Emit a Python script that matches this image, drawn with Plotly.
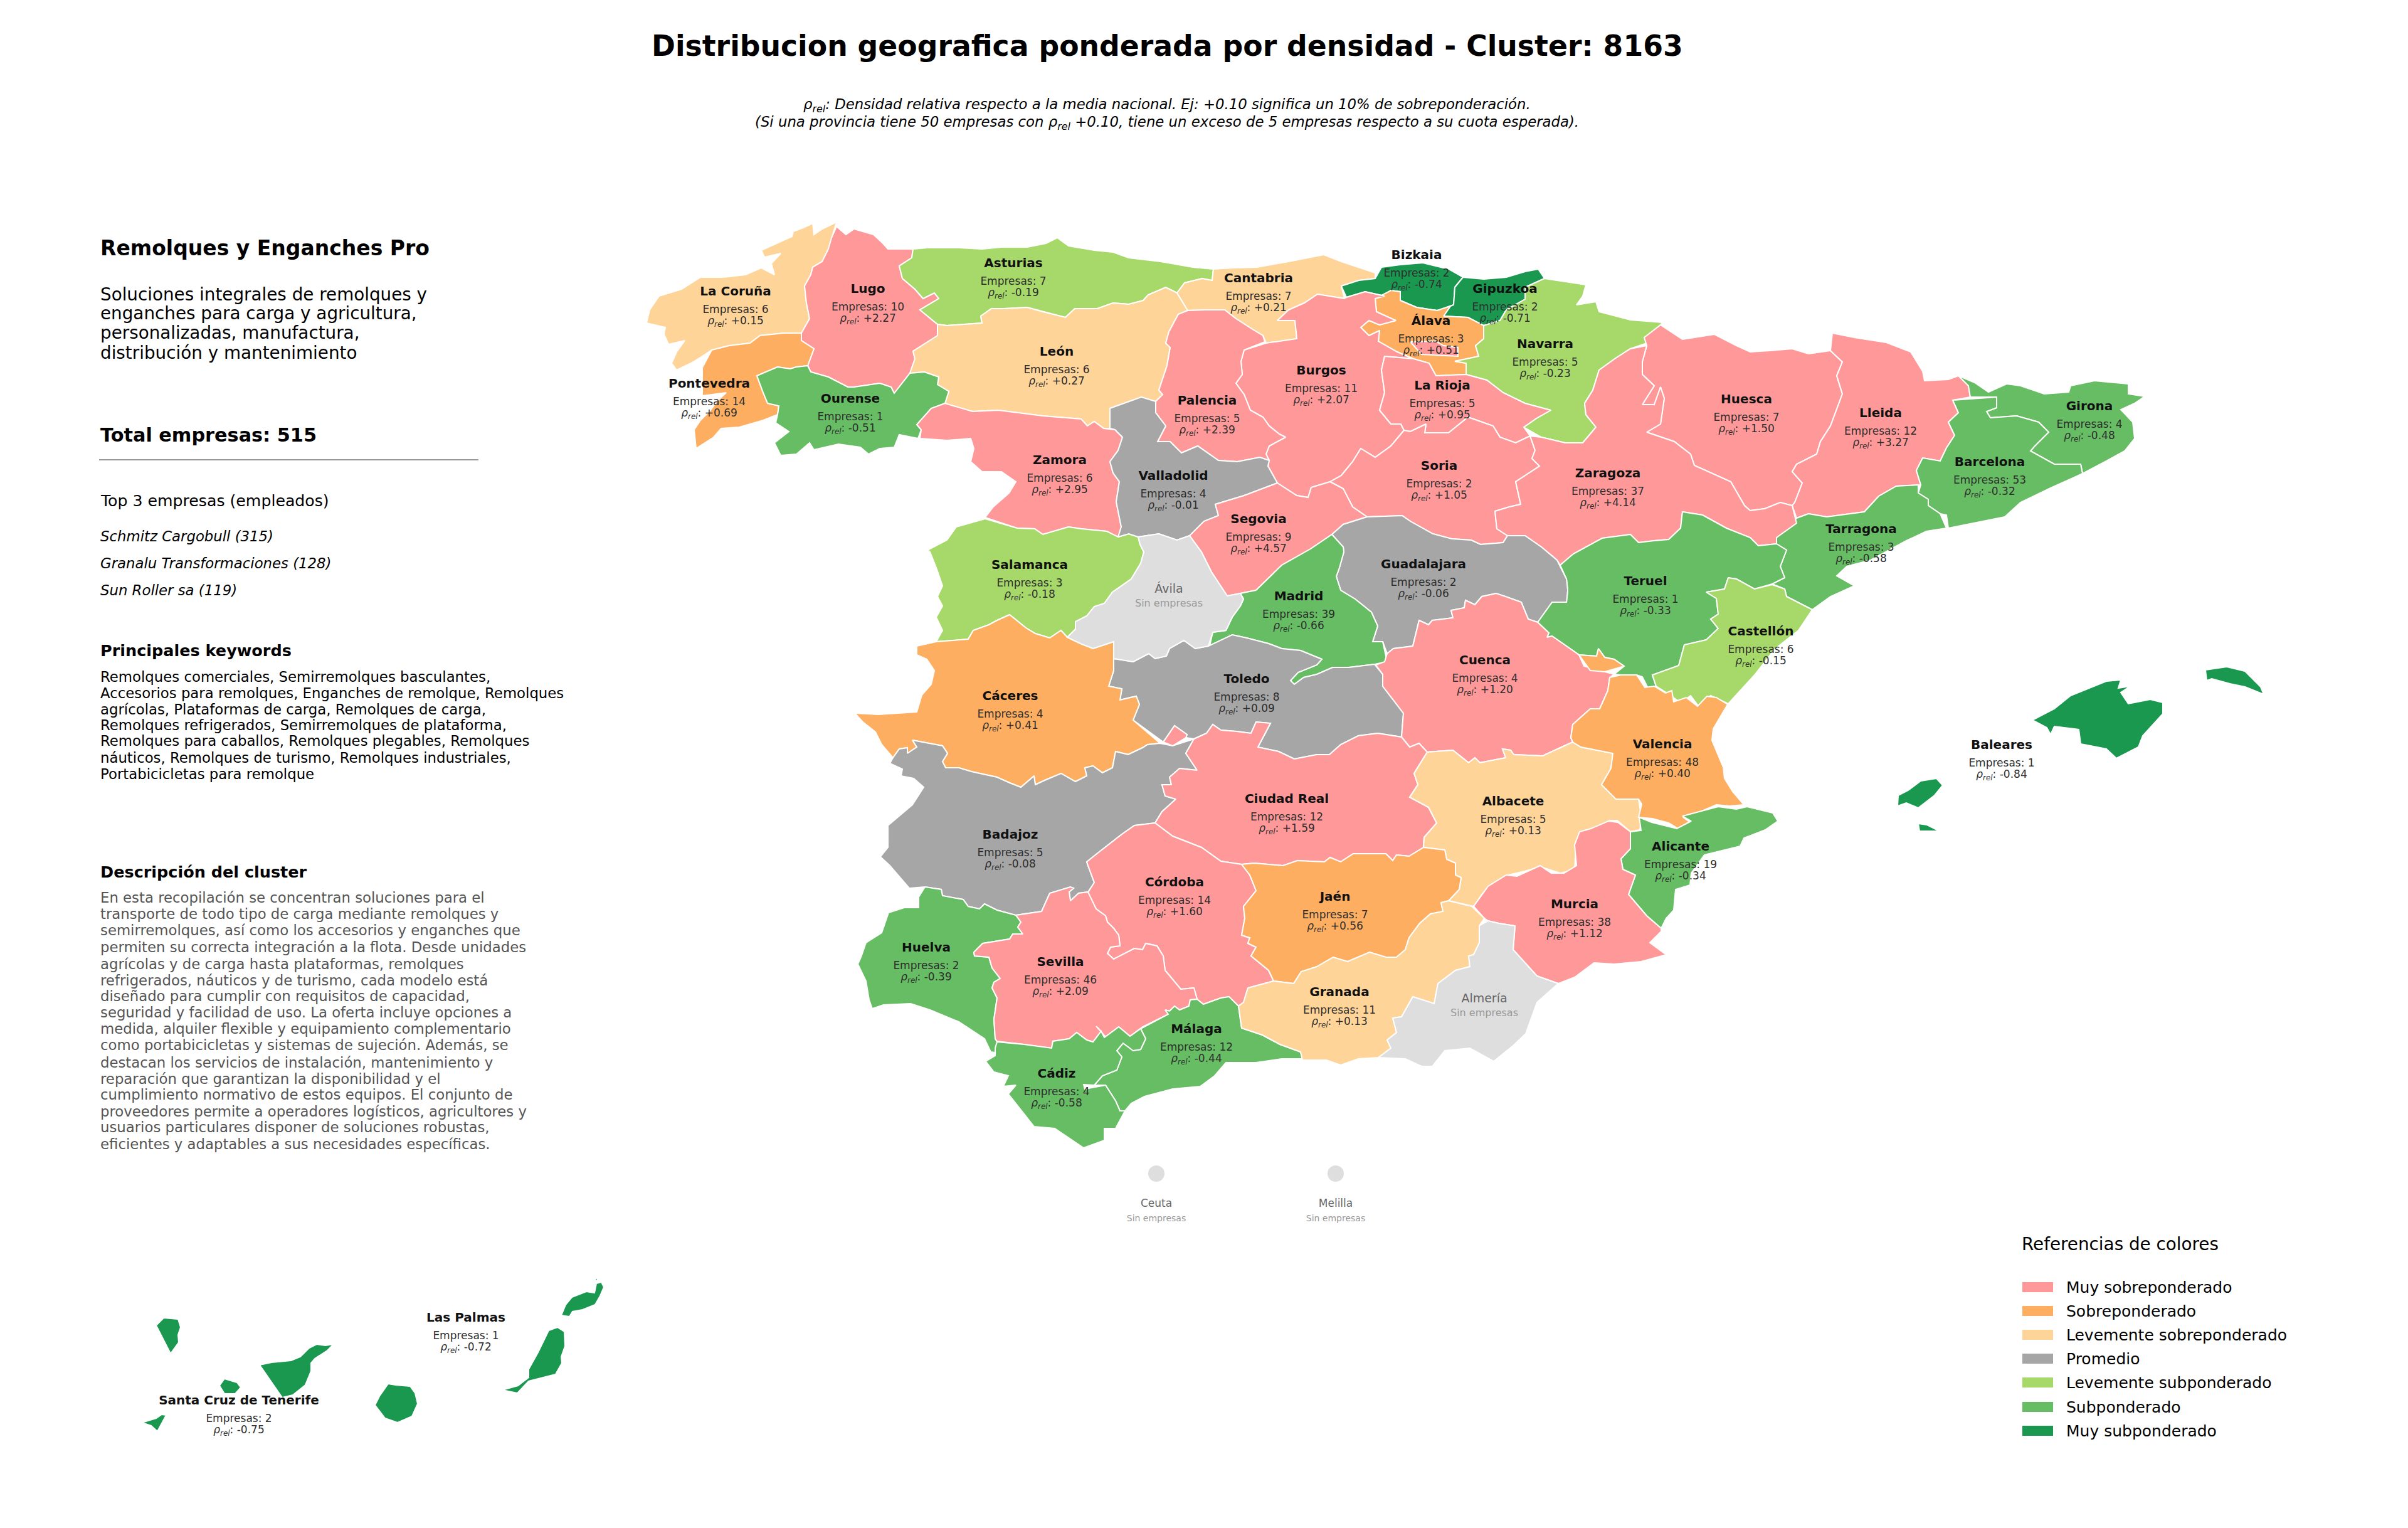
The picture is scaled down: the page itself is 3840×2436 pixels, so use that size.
#!/usr/bin/env python
# coding: utf-8

import plotly.graph_objects as go

# province data
PROVINCIAS = ["La Coruña", "Lugo", "Asturias", "León", "Pontevedra", "Ourense", "Zamora", "Salamanca",
              "Cantabria", "Bizkaia", "Gipuzkoa", "Álava", "Navarra", "Burgos", "La Rioja", "Palencia",
              "Soria", "Valladolid", "Segovia", "Huesca", "Lleida", "Girona", "Barcelona", "Tarragona",
              "Zaragoza", "Teruel", "Castellón", "Guadalajara", "Madrid", "Toledo", "Cuenca", "Cáceres",
              "Badajoz", "Ciudad Real", "Albacete", "Valencia", "Alicante", "Murcia", "Córdoba", "Jaén",
              "Huelva", "Sevilla", "Málaga", "Cádiz", "Granada", "Baleares", "Las Palmas",
              "Santa Cruz de Tenerife"]
EMPRESAS = [6, 10, 7, 6, 14, 1, 6, 3, 7, 2, 2, 3, 5, 11, 5, 5, 2, 4, 9, 7, 12, 4, 53, 3, 37, 1, 6, 2, 39, 8, 4,
            4, 5, 12, 5, 48, 19, 38, 14, 7, 2, 46, 12, 4, 11, 1, 1, 2]
RHO = [0.15, 2.27, -0.19, 0.27, 0.69, -0.51, 2.95, -0.18, 0.21, -0.74, -0.71, 0.51, -0.23, 2.07, 0.95, 2.39,
       1.05, -0.01, 4.57, 1.50, 3.27, -0.48, -0.32, -0.58, 4.14, -0.33, -0.15, -0.06, -0.66, 0.09, 1.20, 0.41,
       -0.08, 1.59, 0.13, 0.40, -0.34, 1.12, 1.60, 0.56, -0.39, 2.09, -0.44, -0.58, 0.13, -0.84, -0.72, -0.75]
LABEL_X = [1173, 1384, 1616, 1685, 1131, 1356, 1690, 1642, 2007, 2259, 2400, 2282, 2464, 2107, 2300, 1925,
           2295, 1871, 2007, 2785, 2999, 3332, 3173, 2968, 2564, 2624, 2808, 2270, 2071, 1988, 2368, 1611,
           1611, 2052, 2413, 2651, 2680, 2511, 1873, 2129, 1477, 1691, 1908, 1685, 2136, 3192, 743, 381]
LABEL_Y = [466, 462, 421, 562, 613, 637, 735, 902, 445, 408, 462, 513, 550, 592, 616, 640,
           744, 760, 829, 638, 660, 649, 738, 845, 756, 928, 1008, 901, 952, 1084, 1054, 1111,
           1332, 1275, 1279, 1188, 1351, 1443, 1408, 1431, 1512, 1535, 1642, 1713, 1583, 1189, 2102, 2234]

SIN_DATOS = ["Ávila", "Almería"]
SIN_DATOS_X = [1864, 2367]
SIN_DATOS_Y = [940, 1593]
PLAZAS = ["Ceuta", "Melilla"]
PLAZAS_X = [1844, 2130]
PLAZAS_Y = [1871, 1871]

CATEGORIAS = ["Muy sobreponderado", "Sobreponderado", "Levemente sobreponderado", "Promedio",
              "Levemente subponderado", "Subponderado", "Muy subponderado"]
COLORES = ["#FF9999", "#FDAE61", "#FED499", "#A6A6A6", "#A6D96A", "#66BD63", "#1A9850"]
COLOR_SIN_DATOS = "#DEDEDE"

# outlines
LA_CORUNA = [(1334,354),(1326,379),(1321,397),(1311,417),(1296,426),(1293,438),(1283,456),(1286,483),(1291,508),(1278,531),(1250,531),(1212,535),(1196,547),(1163,551),(1135,558),(1120,568),(1102,579),(1079,590),(1071,579),(1079,561),(1092,543),(1066,549),(1059,533),(1061,522),(1031,515),(1036,494),(1051,472),(1087,461),(1117,442),(1153,442),(1189,438),(1214,427),(1235,438),(1230,420),(1245,404),(1219,410),(1214,399),(1245,385),(1263,377),(1265,369),(1281,363),(1296,356),(1298,374),(1311,365)]
LUGO = [(1334,361),(1349,374),(1362,365),(1393,374),(1408,388),(1416,397),(1456,397),(1454,411),(1434,424),(1439,444),(1459,461),(1472,476),(1490,467),(1497,476),(1467,494),(1495,517),(1495,535),(1456,560),(1459,572),(1451,595),(1426,627),(1421,617),(1403,611),(1362,617),(1352,617),(1321,601),(1293,593),(1288,583),(1298,556),(1278,543),(1278,531),(1291,508),(1286,483),(1283,456),(1293,438),(1296,426),(1311,417),(1321,397),(1326,379)]
PONTEVEDRA = [(1278,531),(1278,543),(1298,556),(1288,583),(1270,585),(1260,588),(1240,585),(1207,599),(1217,626),(1224,643),(1242,647),(1240,661),(1217,670),(1179,681),(1150,683),(1138,697),(1110,715),(1107,685),(1117,670),(1133,654),(1143,640),(1158,626),(1120,631),(1120,615),(1120,586),(1135,558),(1163,551),(1196,547),(1212,535),(1250,531)]
OURENSE = [(1288,583),(1293,593),(1321,601),(1352,617),(1362,617),(1403,611),(1421,617),(1426,627),(1451,595),(1474,593),(1497,601),(1495,613),(1513,624),(1507,643),(1485,651),(1462,677),(1469,685),(1464,699),(1434,693),(1426,713),(1403,715),(1385,724),(1372,713),(1337,708),(1298,717),(1291,706),(1270,724),(1245,726),(1235,706),(1258,688),(1237,674),(1240,661),(1242,647),(1224,643),(1217,626),(1207,599),(1240,585),(1260,588),(1270,585)]
ASTURIAS = [(1456,397),(1479,395),(1530,395),(1566,397),(1597,394),(1638,394),(1668,388),(1686,379),(1704,392),(1745,399),(1775,402),(1800,411),(1851,417),(1902,426),(1935,429),(1933,447),(1917,444),(1889,451),(1877,467),(1859,458),(1831,470),(1823,479),(1800,485),(1775,483),(1750,492),(1714,492),(1699,506),(1663,497),(1638,490),(1602,492),(1581,492),(1564,504),(1566,515),(1510,519),(1495,517),(1467,494),(1497,476),(1490,467),(1472,476),(1459,461),(1439,444),(1434,424),(1454,411)]
LEON = [(1495,517),(1510,519),(1566,515),(1564,504),(1581,492),(1602,492),(1638,490),(1663,497),(1699,506),(1714,492),(1750,492),(1775,483),(1800,485),(1823,479),(1831,470),(1859,458),(1877,467),(1894,495),(1879,501),(1864,529),(1859,547),(1866,554),(1861,583),(1848,622),(1854,629),(1843,640),(1820,633),(1800,640),(1770,651),(1770,683),(1760,683),(1745,672),(1734,679),(1724,668),(1663,663),(1592,654),(1551,656),(1510,645),(1507,643),(1513,624),(1495,613),(1497,601),(1474,593),(1451,595),(1459,572),(1456,560),(1495,535)]
ZAMORA = [(1507,643),(1551,656),(1592,654),(1663,663),(1724,668),(1734,679),(1745,672),(1760,683),(1778,685),(1790,697),(1783,718),(1770,736),(1775,754),(1785,768),(1780,800),(1788,840),(1783,856),(1765,847),(1724,843),(1704,840),(1663,852),(1650,843),(1622,842),(1576,827),(1571,825),(1584,808),(1609,786),(1620,768),(1597,752),(1566,752),(1548,736),(1553,715),(1548,699),(1510,702),(1467,699),(1469,685),(1462,677),(1485,651)]
PALENCIA = [(1894,495),(1922,494),(1953,494),(1971,508),(1999,526),(2014,535),(2017,545),(1984,558),(1979,576),(1981,597),(1971,611),(1984,629),(1994,654),(2014,665),(2024,679),(2040,692),(2050,697),(2024,711),(2019,724),(2024,734),(2009,729),(1973,736),(1943,734),(1910,711),(1884,722),(1866,704),(1846,704),(1859,679),(1843,658),(1843,640),(1854,629),(1848,622),(1861,583),(1866,554),(1859,547),(1864,529),(1879,501)]
CANTABRIA = [(1935,429),(1968,427),(2004,426),(2055,417),(2111,406),(2139,417),(2193,435),(2193,444),(2167,447),(2139,456),(2144,476),(2101,469),(2080,483),(2055,494),(2037,511),(2065,511),(2068,540),(2019,547),(2014,535),(1999,526),(1971,508),(1953,494),(1922,494),(1894,495),(1877,467),(1889,451),(1917,444),(1933,447)]
BIZKAIA = [(2139,456),(2167,447),(2193,444),(2203,426),(2233,422),(2269,419),(2310,429),(2333,442),(2320,458),(2318,486),(2292,495),(2259,490),(2233,479),(2233,465),(2218,463),(2208,472),(2177,465),(2147,474)]
GIPUZKOA = [(2333,442),(2366,445),(2402,442),(2432,433),(2453,429),(2463,444),(2432,458),(2432,477),(2402,494),(2392,511),(2366,519),(2341,506),(2302,504),(2313,488),(2318,486),(2320,458)]
ALAVA = [(2233,465),(2233,479),(2259,490),(2292,495),(2313,488),(2302,504),(2341,506),(2366,519),(2366,540),(2353,551),(2358,568),(2320,576),(2338,579),(2338,597),(2290,599),(2279,579),(2254,572),(2228,561),(2198,544),(2200,527),(2183,535),(2170,522),(2183,511),(2200,518),(2226,511),(2195,497),(2193,476),(2218,463)]
NAVARRA = [(2463,444),(2483,447),(2529,454),(2524,472),(2514,486),(2545,481),(2550,497),(2600,510),(2651,514),(2629,546),(2600,556),(2575,572),(2550,590),(2540,622),(2527,643),(2529,661),(2545,681),(2524,706),(2496,706),(2458,697),(2430,681),(2450,667),(2473,654),(2432,643),(2397,626),(2371,606),(2338,597),(2338,579),(2320,576),(2358,568),(2353,551),(2366,540),(2366,519),(2392,511),(2402,494),(2432,477),(2432,458)]
LA_RIOJA = [(2208,568),(2254,572),(2279,579),(2290,599),(2338,597),(2371,606),(2397,626),(2432,643),(2473,654),(2450,667),(2430,681),(2440,695),(2417,706),(2392,697),(2381,679),(2341,665),(2310,690),(2272,690),(2274,676),(2249,688),(2239,686),(2234,676),(2218,676),(2200,654),(2208,626),(2203,590)]
BURGOS = [(2144,476),(2101,469),(2080,483),(2055,494),(2037,511),(2065,511),(2068,540),(2019,547),(1984,558),(1979,576),(1981,597),(1971,611),(1984,629),(1994,654),(2014,665),(2024,679),(2040,692),(2050,697),(2024,711),(2019,724),(2024,734),(2022,743),(2037,770),(2068,790),(2086,793),(2091,777),(2121,768),(2139,758),(2157,736),(2170,715),(2193,729),(2218,711),(2239,686),(2234,676),(2218,676),(2200,654),(2208,626),(2203,590),(2208,568),(2254,572),(2228,561),(2198,544),(2200,527),(2183,535),(2170,522),(2183,511),(2200,518),(2226,511),(2195,497),(2193,476),(2208,472),(2177,465),(2147,474)]
TREVINO = [(2249,545),(2290,544),(2302,551),(2325,554),(2325,568),(2267,565)]
SORIA = [(2239,686),(2249,688),(2274,676),(2272,690),(2310,690),(2341,665),(2381,679),(2392,697),(2417,706),(2440,695),(2448,718),(2443,731),(2455,743),(2417,768),(2425,804),(2407,808),(2384,815),(2387,843),(2404,854),(2397,865),(2361,868),(2346,861),(2315,859),(2285,851),(2249,831),(2236,822),(2180,824),(2157,808),(2142,779),(2121,768),(2139,758),(2157,736),(2170,715),(2193,729),(2218,711)]
VALLADOLID = [(1770,651),(1800,640),(1820,633),(1843,640),(1843,658),(1859,679),(1846,704),(1866,704),(1884,722),(1910,711),(1943,734),(1973,736),(2009,729),(2024,734),(2022,743),(2037,770),(1984,790),(1938,804),(1943,822),(1920,831),(1897,854),(1877,861),(1848,851),(1815,856),(1800,851),(1783,856),(1788,840),(1780,800),(1785,768),(1775,754),(1770,736),(1783,718),(1790,697),(1778,685),(1770,683)]
SEGOVIA = [(2037,770),(2068,790),(2086,793),(2091,777),(2121,768),(2142,779),(2157,808),(2180,824),(2142,836),(2124,852),(2090,875),(2044,901),(2003,941),(1978,946),(1957,950),(1932,912),(1916,880),(1897,854),(1920,831),(1943,822),(1938,804),(1984,790)]
SALAMANCA = [(1571,827),(1622,842),(1650,843),(1663,852),(1704,840),(1724,843),(1765,847),(1783,856),(1800,851),(1815,856),(1818,868),(1824,880),(1819,898),(1804,923),(1774,944),(1761,962),(1745,967),(1733,982),(1715,991),(1715,1003),(1702,1016),(1692,1005),(1674,1017),(1651,1010),(1636,1001),(1610,980),(1590,989),(1577,996),(1552,1005),(1544,1019),(1521,1021),(1493,1023),(1503,1005),(1493,984),(1503,966),(1495,951),(1503,934),(1493,905),(1483,880),(1479,877),(1510,861),(1525,840)]
AVILA = [(1815,856),(1848,851),(1877,861),(1897,854),(1916,880),(1932,912),(1957,950),(1978,946),(1983,955),(1978,966),(1965,984),(1955,1005),(1934,1008),(1927,1030),(1906,1034),(1888,1021),(1865,1034),(1860,1046),(1842,1050),(1832,1042),(1807,1055),(1776,1050),(1776,1023),(1743,1034),(1723,1026),(1702,1016),(1715,1003),(1715,991),(1733,982),(1745,967),(1761,962),(1774,944),(1804,923),(1819,898),(1824,880),(1818,868)]
MADRID = [(2003,941),(2044,901),(2090,875),(2124,852),(2142,872),(2143,880),(2136,905),(2131,919),(2138,941),(2161,955),(2187,976),(2197,998),(2189,1023),(2205,1023),(2212,1055),(2192,1059),(2151,1064),(2125,1064),(2100,1075),(2079,1080),(2064,1091),(2058,1085),(2070,1072),(2100,1060),(2108,1051),(2074,1037),(2044,1034),(2023,1026),(1988,1017),(1965,1012),(1929,1030),(1934,1008),(1955,1005),(1965,984),(1978,966),(1983,955),(1978,946)]
GUADALAJARA = [(2180,824),(2236,822),(2249,831),(2285,851),(2315,859),(2346,861),(2361,868),(2397,865),(2404,854),(2432,854),(2458,872),(2483,893),(2498,923),(2500,941),(2498,960),(2475,960),(2452,992),(2437,987),(2426,960),(2401,951),(2386,946),(2363,951),(2352,964),(2337,957),(2335,969),(2314,973),(2317,985),(2284,989),(2278,996),(2263,989),(2253,1030),(2222,1034),(2212,1042),(2205,1023),(2189,1023),(2197,998),(2187,976),(2161,955),(2138,941),(2131,919),(2136,905),(2143,880),(2142,872),(2124,852),(2142,836)]
CUENCA = [(2263,989),(2278,996),(2284,989),(2317,985),(2314,973),(2335,969),(2337,957),(2352,964),(2363,951),(2386,946),(2401,951),(2426,960),(2437,987),(2452,992),(2470,1009),(2467,1016),(2475,1014),(2518,1044),(2526,1062),(2574,1075),(2567,1080),(2564,1101),(2551,1130),(2536,1130),(2508,1155),(2505,1176),(2508,1183),(2460,1205),(2414,1203),(2409,1196),(2396,1194),(2401,1208),(2360,1216),(2352,1208),(2342,1216),(2317,1196),(2276,1199),(2263,1185),(2248,1191),(2235,1175),(2238,1137),(2205,1094),(2205,1075),(2194,1060),(2208,1055),(2212,1042),(2222,1034),(2253,1030)]
ADEMUZ = [(2518,1044),(2546,1046),(2549,1034),(2559,1048),(2574,1051),(2590,1062),(2559,1071),(2536,1069)]
TOLEDO = [(1776,1050),(1807,1055),(1832,1042),(1842,1050),(1860,1046),(1865,1034),(1888,1021),(1906,1034),(1927,1030),(1965,1012),(1988,1017),(2023,1026),(2044,1034),(2074,1037),(2108,1051),(2100,1060),(2070,1072),(2058,1085),(2064,1091),(2079,1080),(2100,1075),(2125,1064),(2151,1064),(2192,1059),(2205,1075),(2205,1094),(2238,1137),(2235,1175),(2197,1169),(2166,1173),(2138,1187),(2120,1203),(2100,1203),(2064,1210),(2039,1198),(2006,1191),(2026,1153),(2003,1151),(1995,1169),(1972,1166),(1947,1164),(1934,1155),(1924,1169),(1904,1178),(1891,1176),(1893,1171),(1873,1157),(1855,1183),(1807,1148),(1817,1123),(1812,1110),(1802,1112),(1786,1116),(1789,1098),(1768,1094),(1776,1069)]
CACERES = [(1610,980),(1636,1001),(1651,1010),(1674,1017),(1692,1005),(1702,1016),(1723,1026),(1743,1034),(1776,1023),(1776,1069),(1768,1094),(1789,1098),(1786,1116),(1812,1110),(1817,1123),(1807,1148),(1850,1185),(1830,1187),(1822,1192),(1799,1203),(1779,1198),(1774,1224),(1758,1232),(1743,1221),(1730,1224),(1733,1237),(1715,1246),(1692,1233),(1666,1244),(1651,1251),(1649,1237),(1628,1255),(1610,1248),(1590,1239),(1549,1230),(1529,1224),(1508,1224),(1503,1214),(1511,1201),(1503,1189),(1455,1180),(1462,1191),(1447,1201),(1447,1192),(1434,1194),(1424,1208),(1406,1187),(1396,1167),(1376,1151),(1363,1137),(1401,1139),(1462,1135),(1470,1108),(1485,1091),(1490,1069),(1478,1051),(1462,1044),(1462,1030),(1493,1023),(1521,1021),(1544,1019),(1552,1005),(1577,996),(1590,989)]
BADAJOZ = [(1424,1208),(1434,1194),(1447,1192),(1447,1201),(1462,1191),(1455,1180),(1503,1189),(1511,1201),(1503,1214),(1508,1224),(1529,1224),(1549,1230),(1590,1239),(1610,1248),(1628,1255),(1649,1237),(1651,1251),(1666,1244),(1692,1233),(1715,1246),(1733,1237),(1730,1224),(1743,1221),(1758,1232),(1774,1224),(1779,1198),(1799,1203),(1822,1192),(1830,1187),(1850,1185),(1870,1189),(1904,1178),(1891,1201),(1909,1228),(1881,1225),(1865,1239),(1868,1251),(1853,1251),(1858,1269),(1875,1274),(1853,1294),(1842,1312),(1809,1316),(1789,1330),(1748,1362),(1733,1374),(1735,1380),(1745,1407),(1735,1422),(1720,1424),(1707,1436),(1705,1422),(1712,1416),(1707,1414),(1674,1424),(1661,1453),(1620,1459),(1590,1451),(1570,1441),(1562,1449),(1544,1445),(1536,1434),(1503,1428),(1501,1418),(1475,1414),(1450,1416),(1419,1380),(1404,1366),(1416,1351),(1416,1316),(1455,1283),(1473,1255),(1457,1241),(1437,1237),(1439,1226),(1419,1217)]
CIUDAD_REAL = [(1904,1178),(1924,1169),(1934,1155),(1947,1164),(1972,1166),(1995,1169),(2003,1151),(2026,1153),(2006,1191),(2039,1198),(2064,1210),(2100,1203),(2120,1203),(2138,1187),(2166,1173),(2197,1169),(2235,1175),(2248,1191),(2263,1185),(2276,1199),(2255,1233),(2261,1251),(2248,1271),(2278,1287),(2291,1312),(2271,1335),(2270,1351),(2247,1365),(2227,1363),(2221,1372),(2210,1361),(2158,1361),(2138,1374),(2121,1367),(2112,1374),(2069,1372),(2046,1380),(2000,1376),(1980,1378),(1947,1373),(1916,1351),(1870,1333),(1842,1312),(1853,1294),(1875,1274),(1858,1269),(1853,1251),(1868,1251),(1865,1239),(1881,1225),(1909,1228),(1891,1201)]
ANCHURAS = [(1855,1183),(1873,1157),(1893,1171),(1891,1176),(1870,1189)]
CORDOBA = [(1842,1312),(1870,1333),(1916,1351),(1947,1373),(1980,1378),(1993,1395),(2003,1420),(1983,1445),(1985,1464),(1980,1491),(1993,1495),(1990,1504),(2003,1510),(1995,1524),(2023,1547),(2031,1564),(1990,1575),(1983,1598),(1975,1604),(1960,1589),(1947,1591),(1919,1601),(1909,1593),(1904,1575),(1883,1577),(1858,1547),(1855,1524),(1845,1508),(1827,1504),(1822,1514),(1809,1512),(1776,1529),(1766,1520),(1771,1510),(1786,1508),(1784,1491),(1776,1480),(1766,1470),(1763,1460),(1748,1449),(1733,1426),(1745,1407),(1735,1380),(1733,1374),(1748,1362),(1789,1330),(1809,1316)]
JAEN = [(2000,1376),(2046,1380),(2069,1372),(2112,1374),(2121,1367),(2138,1374),(2158,1361),(2210,1361),(2221,1372),(2227,1363),(2247,1365),(2270,1351),(2304,1355),(2307,1370),(2321,1376),(2321,1395),(2330,1399),(2327,1418),(2310,1436),(2298,1439),(2301,1453),(2281,1457),(2264,1472),(2247,1495),(2241,1514),(2227,1526),(2210,1526),(2184,1518),(2149,1533),(2126,1526),(2100,1541),(2075,1549),(2063,1568),(2031,1564),(2023,1547),(1995,1524),(2003,1510),(1990,1504),(1993,1495),(1980,1491),(1985,1464),(1983,1445),(2003,1420),(1993,1395),(1980,1378)]
GRANADA = [(1990,1575),(2031,1564),(2063,1568),(2075,1549),(2100,1541),(2126,1526),(2149,1533),(2184,1518),(2210,1526),(2227,1526),(2241,1514),(2247,1495),(2264,1472),(2281,1457),(2301,1453),(2298,1439),(2310,1436),(2347,1445),(2367,1464),(2359,1476),(2359,1503),(2350,1522),(2342,1524),(2344,1541),(2321,1547),(2293,1568),(2287,1600),(2253,1589),(2235,1621),(2221,1623),(2227,1646),(2212,1658),(2218,1671),(2198,1686),(2166,1688),(2138,1698),(2115,1690),(2077,1690),(2074,1677),(2041,1665),(2013,1650),(1980,1639),(1975,1604),(1983,1598)]
ALBACETE = [(2276,1199),(2317,1196),(2342,1216),(2352,1208),(2360,1216),(2401,1208),(2396,1194),(2409,1196),(2414,1203),(2460,1205),(2508,1183),(2521,1191),(2572,1201),(2569,1225),(2554,1251),(2577,1274),(2613,1274),(2618,1305),(2615,1323),(2600,1326),(2579,1308),(2567,1308),(2539,1323),(2521,1326),(2513,1351),(2511,1387),(2488,1392),(2457,1382),(2431,1389),(2401,1396),(2378,1410),(2363,1426),(2350,1445),(2310,1436),(2327,1418),(2330,1399),(2321,1395),(2321,1376),(2307,1370),(2304,1355),(2270,1351),(2271,1335),(2291,1312),(2278,1287),(2248,1271),(2261,1251),(2255,1233)]
MURCIA = [(2350,1445),(2373,1413),(2402,1395),(2419,1397),(2456,1380),(2474,1392),(2494,1392),(2514,1380),(2511,1347),(2519,1326),(2537,1321),(2565,1309),(2580,1311),(2600,1326),(2600,1353),(2585,1369),(2588,1386),(2608,1395),(2597,1426),(2626,1460),(2649,1480),(2649,1485),(2631,1503),(2657,1522),(2617,1533),(2574,1537),(2542,1535),(2511,1558),(2485,1568),(2451,1556),(2413,1514),(2416,1476),(2390,1472),(2373,1468),(2367,1464)]
ALMERIA = [(2373,1468),(2390,1472),(2416,1476),(2413,1514),(2451,1556),(2485,1568),(2451,1598),(2433,1648),(2413,1667),(2382,1692),(2344,1671),(2304,1675),(2284,1700),(2267,1700),(2241,1688),(2198,1686),(2218,1671),(2212,1658),(2227,1646),(2221,1623),(2235,1621),(2253,1589),(2287,1600),(2293,1568),(2321,1547),(2344,1541),(2342,1524),(2350,1522),(2359,1503),(2359,1476)]
ALICANTE = [(2600,1326),(2617,1324),(2614,1303),(2634,1311),(2674,1321),(2697,1309),(2683,1301),(2740,1286),(2769,1290),(2786,1286),(2827,1296),(2835,1309),(2815,1323),(2781,1336),(2775,1349),(2718,1363),(2697,1392),(2695,1411),(2672,1418),(2669,1451),(2657,1464),(2649,1480),(2626,1460),(2597,1426),(2608,1395),(2588,1386),(2585,1369),(2600,1353)]
VALENCIA = [(2567,1080),(2585,1076),(2610,1076),(2623,1096),(2638,1094),(2656,1105),(2666,1101),(2669,1119),(2689,1112),(2707,1126),(2722,1110),(2737,1112),(2755,1123),(2732,1162),(2730,1180),(2748,1223),(2750,1241),(2763,1262),(2781,1283),(2758,1285),(2737,1283),(2707,1296),(2684,1303),(2694,1310),(2676,1321),(2661,1312),(2635,1305),(2613,1303),(2618,1282),(2613,1274),(2577,1274),(2554,1251),(2569,1225),(2572,1201),(2521,1191),(2508,1183),(2505,1176),(2508,1155),(2536,1130),(2551,1130),(2564,1101)]
CASTELLON = [(2721,944),(2750,939),(2756,921),(2769,923),(2798,939),(2826,932),(2846,939),(2849,951),(2890,972),(2868,1005),(2830,1035),(2798,1076),(2756,1122),(2728,1109),(2708,1125),(2696,1109),(2680,1120),(2657,1104),(2641,1094),(2635,1076),(2677,1061),(2686,1028),(2721,1020),(2740,1002),(2728,987),(2740,979),(2737,954)]
TERUEL = [(2683,816),(2715,821),(2753,842),(2791,857),(2804,870),(2833,867),(2849,877),(2839,903),(2846,921),(2826,931),(2798,939),(2769,923),(2756,921),(2750,939),(2721,944),(2737,954),(2740,979),(2728,987),(2740,1002),(2721,1020),(2686,1028),(2677,1061),(2635,1076),(2641,1094),(2629,1099),(2619,1079),(2610,1076),(2585,1076),(2574,1075),(2590,1062),(2574,1051),(2559,1048),(2549,1034),(2546,1046),(2518,1044),(2475,1014),(2467,1016),(2470,1009),(2452,992),(2475,960),(2498,960),(2500,941),(2498,923),(2488,901),(2509,883),(2555,858),(2600,852),(2613,865),(2638,862),(2661,860),(2680,842)]
ZARAGOZA = [(2440,695),(2458,697),(2496,706),(2524,706),(2545,681),(2529,661),(2527,643),(2540,622),(2550,590),(2575,572),(2600,556),(2626,551),(2619,577),(2619,597),(2638,615),(2619,645),(2638,645),(2648,617),(2654,635),(2648,676),(2626,689),(2670,704),(2696,724),(2702,742),(2760,768),(2782,806),(2791,814),(2814,811),(2839,801),(2858,806),(2865,834),(2833,857),(2833,867),(2804,870),(2791,857),(2753,842),(2715,821),(2683,816),(2680,842),(2661,860),(2638,862),(2613,865),(2600,852),(2555,858),(2509,883),(2488,901),(2483,893),(2458,872),(2432,854),(2404,854),(2387,843),(2384,815),(2407,808),(2425,804),(2417,768),(2455,743),(2443,731),(2448,718)]
HUESCA = [(2626,551),(2622,538),(2648,518),(2683,541),(2734,533),(2769,551),(2791,561),(2823,559),(2858,556),(2884,564),(2919,559),(2938,577),(2929,599),(2938,628),(2919,679),(2903,704),(2897,724),(2865,740),(2858,752),(2874,770),(2862,801),(2858,806),(2839,801),(2814,811),(2791,814),(2782,806),(2760,768),(2702,742),(2696,724),(2670,704),(2626,689),(2648,676),(2654,635),(2648,617),(2638,645),(2619,645),(2638,615),(2619,597),(2619,577)]
LLEIDA = [(2922,531),(2957,538),(3008,546),(3047,561),(3066,592),(3069,607),(3107,605),(3123,599),(3139,615),(3142,633),(3114,638),(3123,658),(3107,673),(3117,694),(3104,714),(3094,735),(3066,730),(3056,750),(3063,773),(3024,775),(2996,791),(2973,816),(2913,824),(2884,819),(2865,826),(2858,806),(2862,801),(2874,770),(2858,752),(2865,740),(2897,724),(2903,704),(2919,679),(2938,628),(2929,599),(2938,577),(2919,559)]
TARRAGONA = [(2865,826),(2884,819),(2913,824),(2973,816),(2996,791),(3024,775),(3059,773),(3059,786),(3075,796),(3075,806),(3094,819),(3104,842),(3072,847),(3040,862),(2983,893),(2945,903),(2929,918),(2957,934),(2919,951),(2890,972),(2849,951),(2846,939),(2826,931),(2846,921),(2839,903),(2849,877),(2833,867),(2833,857)]
BARCELONA = [(3066,730),(3094,735),(3104,714),(3117,694),(3107,673),(3123,658),(3114,638),(3184,633),(3184,650),(3168,656),(3174,666),(3216,663),(3251,673),(3267,689),(3244,712),(3238,719),(3276,740),(3318,740),(3321,755),(3270,778),(3222,801),(3197,824),(3107,842),(3104,821),(3094,819),(3075,806),(3075,796),(3059,786),(3063,773),(3056,750)]
GIRONA = [(3123,599),(3149,610),(3171,625),(3200,612),(3222,615),(3260,628),(3299,625),(3302,615),(3340,607),(3394,612),(3394,628),(3420,632),(3404,643),(3382,653),(3401,673),(3404,699),(3388,719),(3359,735),(3321,755),(3318,740),(3276,740),(3238,719),(3244,712),(3267,689),(3251,673),(3216,663),(3174,666),(3168,656),(3184,650),(3184,633),(3142,633),(3139,615)]
HUELVA = [(1475,1414),(1501,1418),(1503,1428),(1536,1434),(1544,1445),(1562,1449),(1570,1441),(1590,1451),(1620,1459),(1628,1470),(1623,1478),(1631,1489),(1615,1489),(1610,1497),(1567,1504),(1553,1518),(1554,1524),(1577,1526),(1582,1543),(1595,1560),(1585,1566),(1582,1575),(1590,1591),(1585,1625),(1587,1656),(1590,1661),(1587,1678),(1580,1677),(1570,1656),(1529,1629),(1483,1610),(1452,1600),(1409,1602),(1391,1608),(1386,1594),(1381,1564),(1368,1537),(1373,1526),(1381,1503),(1406,1487),(1417,1455),(1442,1447),(1465,1447),(1465,1430)]
SEVILLA = [(1620,1459),(1661,1453),(1674,1424),(1707,1414),(1712,1416),(1705,1422),(1707,1436),(1720,1424),(1735,1422),(1748,1449),(1763,1460),(1766,1470),(1776,1480),(1784,1491),(1786,1508),(1771,1510),(1766,1520),(1776,1529),(1809,1512),(1822,1514),(1827,1504),(1845,1508),(1855,1524),(1858,1547),(1883,1577),(1904,1575),(1909,1593),(1898,1594),(1896,1604),(1881,1610),(1873,1604),(1865,1612),(1858,1610),(1863,1617),(1822,1637),(1802,1652),(1784,1637),(1763,1653),(1748,1636),(1756,1644),(1743,1661),(1733,1658),(1717,1646),(1705,1656),(1679,1660),(1677,1671),(1633,1665),(1590,1660),(1587,1656),(1585,1625),(1590,1591),(1582,1575),(1585,1566),(1595,1560),(1582,1543),(1577,1526),(1554,1524),(1553,1518),(1567,1504),(1610,1497),(1615,1489),(1631,1489),(1623,1478),(1628,1470)]
CADIZ = [(1590,1661),(1633,1665),(1677,1671),(1679,1660),(1705,1656),(1717,1646),(1733,1658),(1743,1661),(1756,1644),(1761,1654),(1784,1637),(1802,1652),(1819,1640),(1827,1656),(1819,1673),(1807,1675),(1791,1663),(1781,1675),(1789,1685),(1781,1706),(1758,1715),(1745,1730),(1728,1729),(1730,1736),(1763,1730),(1779,1755),(1786,1771),(1794,1771),(1779,1799),(1761,1799),(1761,1818),(1728,1830),(1682,1799),(1649,1796),(1608,1744),(1620,1730),(1600,1732),(1608,1715),(1585,1709),(1572,1692),(1587,1683),(1587,1671)]
MALAGA = [(1898,1594),(1909,1593),(1919,1601),(1947,1591),(1960,1589),(1975,1604),(1980,1639),(2013,1650),(2041,1665),(2074,1677),(2077,1688),(2044,1688),(2003,1694),(1955,1694),(1937,1715),(1914,1732),(1870,1736),(1825,1748),(1804,1759),(1794,1771),(1786,1771),(1779,1755),(1763,1730),(1745,1730),(1758,1715),(1781,1706),(1789,1685),(1781,1675),(1791,1663),(1807,1675),(1819,1673),(1827,1656),(1819,1640),(1863,1617),(1858,1610),(1865,1612),(1873,1604),(1881,1610),(1896,1604)]
MALLORCA = [(3241,1148),(3276,1130),(3302,1109),(3359,1086),(3382,1084),(3378,1097),(3397,1094),(3382,1104),(3394,1122),(3429,1115),(3449,1120),(3449,1138),(3417,1173),(3410,1191),(3375,1209),(3359,1194),(3318,1186),(3315,1163),(3276,1158),(3270,1171),(3264,1160)]
MENORCA = [(3517,1068),(3551,1063),(3580,1070),(3605,1095),(3610,1107),(3580,1095),(3556,1090),(3527,1082),(3519,1085)]
IBIZA = [(3027,1268),(3043,1260),(3063,1245),(3088,1241),(3098,1252),(3085,1268),(3059,1288),(3040,1280),(3026,1285)]
FORMENTERA = [(3059,1313),(3073,1315),(3093,1325),(3073,1325),(3061,1325)]
LA_PALMA = [(249,2113),(261,2101),(284,2103),(288,2116),(284,2128),(285,2140),(272,2158),(261,2136)]
LA_GOMERA = [(350,2209),(358,2198),(378,2204),(384,2212),(375,2222),(358,2222)]
TENERIFE = [(414,2176),(433,2172),(464,2169),(479,2163),(493,2149),(505,2143),(519,2145),(532,2143),(522,2153),(502,2166),(496,2173),(496,2186),(487,2208),(467,2224),(450,2228),(427,2194)]
EL_HIERRO = [(226,2268),(249,2261),(258,2255),(265,2256),(258,2269),(251,2282),(241,2273)]
GRAN_CANARIA = [(619,2206),(631,2208),(654,2210),(662,2221),(666,2238),(657,2258),(634,2268),(614,2261),(598,2240),(605,2226)]
FUERTEVENTURA = [(875,2121),(889,2116),(900,2123),(901,2146),(895,2163),(896,2173),(886,2191),(843,2202),(825,2221),(801,2216),(826,2209),(843,2196),(843,2183),(858,2156)]
LANZAROTE = [(895,2097),(902,2080),(912,2068),(935,2059),(948,2061),(951,2046),(959,2044),(963,2052),(957,2066),(949,2080),(929,2088),(913,2091),(908,2099)]
LA_GRACIOSA = [(948,2042),(952,2036),(953,2042)]

# same order as PROVINCIAS
CONTORNOS = [[LA_CORUNA], [LUGO], [ASTURIAS], [LEON], [PONTEVEDRA], [OURENSE], [ZAMORA], [SALAMANCA],
             [CANTABRIA], [BIZKAIA], [GIPUZKOA], [ALAVA], [NAVARRA], [BURGOS, TREVINO], [LA_RIOJA], [PALENCIA],
             [SORIA], [VALLADOLID], [SEGOVIA], [HUESCA], [LLEIDA], [GIRONA], [BARCELONA], [TARRAGONA],
             [ZARAGOZA], [TERUEL], [CASTELLON], [GUADALAJARA], [MADRID], [TOLEDO], [CUENCA], [CACERES],
             [BADAJOZ], [CIUDAD_REAL, ANCHURAS], [ALBACETE], [VALENCIA, ADEMUZ], [ALICANTE], [MURCIA], [CORDOBA], [JAEN],
             [HUELVA], [SEVILLA], [MALAGA], [CADIZ], [GRANADA], [MALLORCA, MENORCA, IBIZA, FORMENTERA],
             [GRAN_CANARIA, FUERTEVENTURA, LANZAROTE, LA_GRACIOSA],
             [LA_PALMA, LA_GOMERA, TENERIFE, EL_HIERRO]]

# left panel text
EMPRESA_TEXTO = ["Soluciones integrales de remolques y", "enganches para carga y agricultura,",
                 "personalizadas, manufactura,", "distribución y mantenimiento"]
EMPRESA_Y = [469, 499, 530, 562]
TOP3 = ["Schmitz Cargobull (315)", "Granalu Transformaciones (128)", "Sun Roller sa (119)"]
TOP3_Y = [855, 898, 941]
KEYWORDS = ["Remolques comerciales, Semirremolques basculantes,",
            "Accesorios para remolques, Enganches de remolque, Remolques",
            "agrícolas, Plataformas de carga, Remolques de carga,",
            "Remolques refrigerados, Semirremolques de plataforma,",
            "Remolques para caballos, Remolques plegables, Remolques",
            "náuticos, Remolques de turismo, Remolques industriales,",
            "Portabicicletas para remolque"]
KEYWORDS_Y = [1079, 1105, 1131, 1156, 1181, 1208, 1234]
DESCRIPCION = ["En esta recopilación se concentran soluciones para el",
               "transporte de todo tipo de carga mediante remolques y",
               "semirremolques, así como los accesorios y enganches que",
               "permiten su correcta integración a la flota. Desde unidades",
               "agrícolas y de carga hasta plataformas, remolques",
               "refrigerados, náuticos y de turismo, cada modelo está",
               "diseñado para cumplir con requisitos de capacidad,",
               "seguridad y facilidad de uso. La oferta incluye opciones a",
               "medida, alquiler flexible y equipamiento complementario",
               "como portabicicletas y sistemas de sujeción. Además, se",
               "destacan los servicios de instalación, mantenimiento y",
               "reparación que garantizan la disponibilidad y el",
               "cumplimiento normativo de estos equipos. El conjunto de",
               "proveedores permite a operadores logísticos, agricultores y",
               "usuarios particulares disponer de soluciones robustas,",
               "eficientes y adaptables a sus necesidades específicas."]
DESCRIPCION_Y = [1431, 1457, 1483, 1510, 1537, 1563, 1588, 1614, 1640, 1666, 1694, 1720, 1745, 1772, 1797, 1824]
LEYENDA_Y = [2052, 2090, 2128, 2166, 2204, 2243, 2281]

FUENTE = "DejaVu Sans"


def categoria(r):
    if r >= 0.75:
        return 0
    if r >= 0.3:
        return 1
    if r >= 0.1:
        return 2
    if r > -0.1:
        return 3
    if r > -0.3:
        return 4
    if r > -0.7:
        return 5
    return 6


def partes(polys):
    xs, ys = [], []
    for p in polys:
        xs += [a for a, b in p] + [p[0][0], None]
        ys += [b for a, b in p] + [p[0][1], None]
    return xs, ys


fig = go.Figure()


def relleno(polys, color, nombre):
    xs, ys = partes(polys)
    fig.add_trace(go.Scatter(x=xs, y=ys, mode="lines", fill="toself", fillcolor=color, name=nombre,
                             line=dict(color="white", width=2), hoverinfo="skip", showlegend=False))


for nombre, polys, r in zip(PROVINCIAS, CONTORNOS, RHO):
    relleno(polys, COLORES[categoria(r)], nombre)
relleno([AVILA], COLOR_SIN_DATOS, "Ávila")
relleno([ALMERIA], COLOR_SIN_DATOS, "Almería")

fig.add_trace(go.Scatter(x=PLAZAS_X, y=PLAZAS_Y, mode="markers", hoverinfo="skip", showlegend=False,
                         marker=dict(size=26, color=COLOR_SIN_DATOS)))


def textos(xs, ys, labels, size, color):
    fig.add_trace(go.Scatter(x=xs, y=ys, mode="text", text=labels, textposition="middle center",
                             textfont=dict(family=FUENTE, size=size, color=color),
                             hoverinfo="skip", showlegend=False, cliponaxis=False))


# province labels
textos(LABEL_X, LABEL_Y, ["<b>%s</b>" % p for p in PROVINCIAS], 20, "#111111")
textos(LABEL_X, [y + 29 for y in LABEL_Y], ["Empresas: %d" % e for e in EMPRESAS], 17, "#2e2e2e")
textos(LABEL_X, [y + 47 for y in LABEL_Y], ["<i>ρ<sub>rel</sub></i>: %+.2f" % r for r in RHO], 17, "#2e2e2e")
textos(SIN_DATOS_X, SIN_DATOS_Y, SIN_DATOS, 19, "#666666")
textos(SIN_DATOS_X, [y + 23 for y in SIN_DATOS_Y], ["Sin empresas"] * 2, 16, "#999999")
textos(PLAZAS_X, [y + 49 for y in PLAZAS_Y], PLAZAS, 17, "#666666")
textos(PLAZAS_X, [y + 72 for y in PLAZAS_Y], ["Sin empresas"] * 2, 14, "#999999")


def nota(x, y, texto, size, color="black", anchor="left"):
    fig.add_annotation(x=x, y=y, text=texto, showarrow=False, xanchor=anchor, yanchor="middle",
                       font=dict(family=FUENTE, size=size, color=color))


nota(1861, 73, "<b>Distribucion geografica ponderada por densidad - Cluster: 8163</b>", 45.7, anchor="center")
nota(1861, 168, "<i>ρ<sub>rel</sub>: Densidad relativa respecto a la media nacional. Ej: +0.10 significa un 10% de sobreponderación.</i>",
     22.8, anchor="center")
nota(1861, 196, "<i>(Si una provincia tiene 50 empresas con ρ<sub>rel</sub> +0.10, tiene un exceso de 5 empresas respecto a su cuota esperada).</i>",
     22.8, anchor="center")

nota(158, 395, "<b>Remolques y Enganches Pro</b>", 33)
for t, y in zip(EMPRESA_TEXTO, EMPRESA_Y):
    nota(158, y, t, 27.8)
nota(158, 693, "<b>Total empresas: 515</b>", 30.3)
fig.add_shape(type="line", x0=158, x1=763, y0=733, y1=733, line=dict(color="#999999", width=2))
nota(158, 798, "Top 3 empresas (empleados)", 25.2)
for t, y in zip(TOP3, TOP3_Y):
    nota(158, y, "<i>%s</i>" % t, 22.8)
nota(158, 1037, "<b>Principales keywords</b>", 25.5)
for t, y in zip(KEYWORDS, KEYWORDS_Y):
    nota(158, y, t, 22.8)
nota(158, 1390, "<b>Descripción del cluster</b>", 25.5)
for t, y in zip(DESCRIPCION, DESCRIPCION_Y):
    nota(158, y, t, 22.8, color="#555555")

# colour key
nota(3222, 1983, "Referencias de colores", 27.8)
for c, color, y in zip(CATEGORIAS, COLORES, LEYENDA_Y):
    fig.add_shape(type="rect", x0=3225, x1=3274, y0=y - 8, y1=y + 8, fillcolor=color, line_width=0)
    nota(3293, y, c, 25)

fig.update_xaxes(range=[0, 3840], visible=False, fixedrange=True)
fig.update_yaxes(range=[2436, 0], visible=False, fixedrange=True)
fig.update_layout(width=3840, height=2436, margin=dict(l=0, r=0, t=0, b=0),
                  paper_bgcolor="white", plot_bgcolor="white", showlegend=False)

fig.write_html("out.html", config={"displayModeBar": False}, post_script="document.body.style.margin='0';")
